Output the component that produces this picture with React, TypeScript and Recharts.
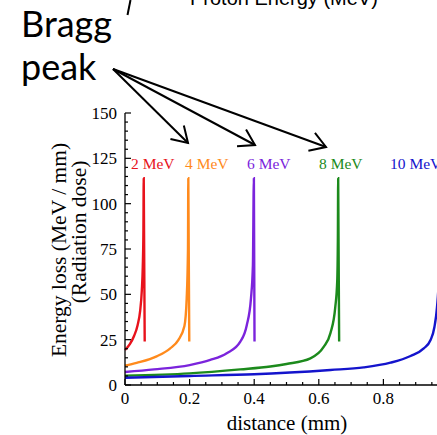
import React from 'react';
import { LineChart, Line, XAxis, YAxis } from 'recharts';

// distance (mm) and energy loss (MeV/mm), per proton energy
const dist2MeV = [0, 0.015, 0.028, 0.039, 0.047, 0.052, 0.055, 0.057, 0.058, 0.061];
const loss2MeV = [19.3, 22.5, 27, 33, 41, 52, 65, 85, 114, 24];

const dist4MeV = [0, 0.036, 0.098, 0.14, 0.165, 0.184, 0.191, 0.195, 0.196, 0.199];
const loss4MeV = [10.6, 12.2, 15.8, 20.2, 24.8, 32.5, 47.8, 75, 114, 24];

const dist6MeV = [0, 0.09, 0.2, 0.264, 0.315, 0.357, 0.377, 0.39, 0.396, 0.399, 0.401];
const loss6MeV = [7.2, 8.6, 11, 13.8, 17.5, 23.9, 33, 47.8, 66, 114, 24];

const dist8MeV = [0, 0.2, 0.357, 0.45, 0.5, 0.574, 0.615, 0.636, 0.651, 0.657, 0.659, 0.66, 0.663];
const loss8MeV = [5.1, 6.4, 8.6, 10.2, 11.6, 14.7, 21, 28.6, 43, 57, 80, 114, 24];

const dist10MeV = [0, 0.2, 0.4, 0.636, 0.739, 0.822, 0.884, 0.925, 0.946, 0.958, 0.966, 0.972, 0.976, 0.978, 0.981];
const loss10MeV = [4.0, 5.0, 5.9, 8.3, 9.7, 12.3, 16, 20.2, 24.8, 32, 43, 60, 85, 114, 24];

const energyLabels = ['2 MeV', '4 MeV', '6 MeV', '8 MeV', '10 MeV'];
const seriesColors = ['#e8121c', '#ff8a1c', '#7b24dc', '#1c8a1c', '#1414cc'];

const xTicks = [0, 0.05, 0.1, 0.15, 0.2, 0.25, 0.3, 0.35, 0.4, 0.45, 0.5, 0.55, 0.6, 0.65, 0.7, 0.75, 0.8, 0.85, 0.9, 0.95, 1];
const yTicks = [0, 5, 10, 15, 20, 25, 30, 35, 40, 45, 50, 55, 60, 65, 70, 75, 80, 85, 90, 95, 100, 105, 110, 115, 120, 125, 130, 135, 140, 145, 150];

const toPoints = (xs: number[], ys: number[]) => xs.map((x, i) => ({ x, y: ys[i] }));
const series = [
  toPoints(dist2MeV, loss2MeV),
  toPoints(dist4MeV, loss4MeV),
  toPoints(dist6MeV, loss6MeV),
  toPoints(dist8MeV, loss8MeV),
  toPoints(dist10MeV, loss10MeV),
];

const SERIF = "'Times New Roman', 'Liberation Serif', serif";

const isMajor = (v: number, step: number) => Math.abs(v / step - Math.round(v / step)) < 1e-6;
const fmt = (v: number) => String(Math.round(v * 100) / 100);

const BottomTick = (props: any) => {
  const { x, y, payload } = props;
  const v = payload.value;
  const major = isMajor(v, 0.2);
  return (
    <g>
      <line x1={x} y1={y} x2={x} y2={y - (major ? 6 : 3)} stroke="#000" strokeWidth={1.2} />
      {major && (
        <text x={x} y={y + 19} textAnchor="middle" fontFamily={SERIF} fontSize={17} fill="#000">
          {fmt(v)}
        </text>
      )}
    </g>
  );
};

const TopTick = (props: any) => {
  const { x, y, payload } = props;
  const major = isMajor(payload.value, 0.2);
  return <line x1={x} y1={y} x2={x} y2={y + (major ? 6 : 3)} stroke="#000" strokeWidth={1.2} />;
};

const LeftTick = (props: any) => {
  const { x, y, payload } = props;
  const v = payload.value;
  const major = isMajor(v, 25);
  return (
    <g>
      <line x1={x} y1={y} x2={x + (major ? 6 : 3)} y2={y} stroke="#000" strokeWidth={1.2} />
      {major && (
        <text x={x - 8} y={y + 6} textAnchor="end" fontFamily={SERIF} fontSize={17} fill="#000">
          {fmt(v)}
        </text>
      )}
    </g>
  );
};

const labelX = [131, 185, 247, 319, 390];

const arrowStart = { x: 113, y: 69 };
const arrowTips = [
  { x: 188, y: 143 },
  { x: 255, y: 145 },
  { x: 326, y: 147 },
];

const arrowHead = (tip: { x: number; y: number }) => {
  const ang = Math.atan2(tip.y - arrowStart.y, tip.x - arrowStart.x);
  const len = 18;
  const spread = (32 * Math.PI) / 180;
  const a1 = ang + Math.PI - spread;
  const a2 = ang + Math.PI + spread;
  return `M${tip.x + len * Math.cos(a1)},${tip.y + len * Math.sin(a1)} L${tip.x},${tip.y} L${tip.x + len * Math.cos(a2)},${tip.y + len * Math.sin(a2)}`;
};

export default function App() {
  return (
    <div style={{ position: 'absolute', left: 0, top: 0, width: 437, height: 435, overflow: 'hidden', background: '#fff' }}>
      <LineChart width={460} height={435} margin={{ top: 113, right: 12, bottom: 20, left: 0 }}>
        <XAxis
          xAxisId="b"
          type="number"
          dataKey="x"
          domain={[0, 1]}
          ticks={xTicks}
          interval={0}
          orientation="bottom"
          height={30}
          tickSize={0}
          tickMargin={0}
          tickLine={false}
          axisLine={{ stroke: '#000', strokeWidth: 1.3 }}
          tick={<BottomTick />}
        />
        <XAxis
          xAxisId="t"
          type="number"
          dataKey="x"
          domain={[0, 1]}
          ticks={xTicks}
          interval={0}
          orientation="top"
          height={0}
          tickSize={0}
          tickMargin={0}
          tickLine={false}
          axisLine={{ stroke: '#000', strokeWidth: 1.3 }}
          tick={<TopTick />}
        />
        <YAxis
          yAxisId="l"
          type="number"
          domain={[0, 150]}
          ticks={yTicks}
          interval={0}
          width={125}
          tickSize={0}
          tickMargin={0}
          tickLine={false}
          axisLine={{ stroke: '#000', strokeWidth: 1.3 }}
          tick={<LeftTick />}
        />
        {series.map((d, i) => (
          <Line
            key={energyLabels[i]}
            xAxisId="b"
            yAxisId="l"
            data={d}
            dataKey="y"
            type="monotoneX"
            stroke={seriesColors[i]}
            strokeWidth={2.4}
            dot={false}
            activeDot={false}
            isAnimationActive={false}
          />
        ))}
      </LineChart>
      <svg width={437} height={435} style={{ position: 'absolute', left: 0, top: 0, pointerEvents: 'none' }}>
        {energyLabels.map((t, i) => (
          <text key={t} x={labelX[i]} y={169} fontFamily={SERIF} fontSize={15.5} fill={seriesColors[i]}>
            {t}
          </text>
        ))}
        <text
          transform="translate(59,250) rotate(-90)"
          textAnchor="middle"
          dominantBaseline="central"
          fontFamily={SERIF}
          fontSize={21.5}
          fill="#000"
        >
          Energy loss (MeV / mm)
        </text>
        <text
          transform="translate(79,232) rotate(-90)"
          textAnchor="middle"
          dominantBaseline="central"
          fontFamily={SERIF}
          fontSize={21.5}
          fill="#000"
        >
          (Radiation dose)
        </text>
        <text x={287} y={430} textAnchor="middle" fontFamily={SERIF} fontSize={21} fill="#000">
          distance (mm)
        </text>
        <text x={190} y={5} fontFamily="'Liberation Sans', Arial, sans-serif" fontSize={20} fill="#000">
          Proton Energy (MeV)
        </text>
        <line x1={130.5} y1={0} x2={127.5} y2={15} stroke="#000" strokeWidth={2} />
        <text x={21} y={37} fontFamily="Lato, 'Noto Sans', sans-serif" fontSize={36} fill="#000">
          Bragg
        </text>
        <text x={21} y={80} fontFamily="Lato, 'Noto Sans', sans-serif" fontSize={36} fill="#000">
          peak
        </text>
        {arrowTips.map((tip, i) => (
          <g key={i}>
            <line x1={arrowStart.x} y1={arrowStart.y} x2={tip.x} y2={tip.y} stroke="#000" strokeWidth={2} />
            <path d={arrowHead(tip)} fill="none" stroke="#000" strokeWidth={2} />
          </g>
        ))}
      </svg>
    </div>
  );
}
